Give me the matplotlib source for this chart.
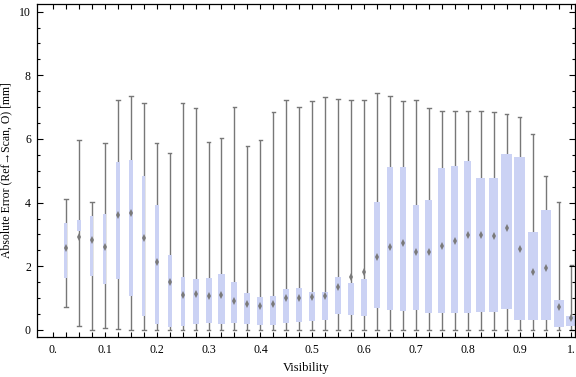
import numpy as np
import matplotlib
matplotlib.use("Agg")
import matplotlib.pyplot as plt
from matplotlib.patches import Rectangle

# visibility bins (box centres)
visibility = [0.025 * k for k in range(1, 41)]

# box-whisker statistics (mm)
whisker_lo = [0.73, 0.14, 0.00, 0.05, 0.02, 0.00, 0.00, 0.00, 0.00, 0.00,
              0.00, 0.00, 0.00, 0.00, 0.00, 0.00, 0.00, 0.00, 0.00, 0.00,
              0.00, 0.00, 0.00, 0.00, 0.00, 0.00, 0.00, 0.00, 0.00, 0.00,
              0.00, 0.00, 0.00, 0.00, 0.00, 0.00, 0.00, 0.00, 0.00, 0.00]
q1 = [1.64, 3.12, 1.71, 1.45, 1.61, 1.08, 0.44, 0.20, 0.10, 0.14,
      0.20, 0.23, 0.20, 0.23, 0.20, 0.17, 0.17, 0.23, 0.26, 0.29,
      0.32, 0.51, 0.48, 0.45, 0.70, 0.64, 0.61, 0.64, 0.54, 0.54,
      0.54, 0.54, 0.58, 0.58, 0.67, 0.32, 0.32, 0.32, 0.10, 0.14]
median = [2.56, 2.92, 2.83, 2.62, 3.61, 3.66, 2.88, 2.13, 1.50, 1.10,
          1.12, 1.08, 1.10, 0.92, 0.81, 0.76, 0.81, 1.00, 1.00, 1.04,
          1.07, 1.34, 1.65, 1.82, 2.29, 2.62, 2.73, 2.46, 2.46, 2.64,
          2.79, 2.99, 2.97, 2.95, 3.20, 2.55, 1.83, 1.96, 0.71, 0.38]
q3 = [3.35, 3.47, 3.58, 3.64, 5.27, 5.34, 4.83, 3.92, 2.35, 1.66,
      1.60, 1.63, 1.76, 1.51, 1.16, 1.03, 1.07, 1.29, 1.32, 1.19,
      1.19, 1.67, 1.48, 1.60, 4.02, 5.12, 5.12, 3.92, 4.08, 5.09,
      5.15, 5.31, 4.77, 4.77, 5.53, 5.43, 3.08, 3.77, 0.95, 0.44]
whisker_hi = [4.13, 5.96, 4.01, 5.86, 7.24, 7.35, 7.12, 5.86, 5.55, 7.12,
              6.96, 5.92, 6.02, 7.02, 5.77, 5.96, 6.84, 7.21, 7.02, 7.18,
              7.31, 7.27, 7.24, 7.24, 7.43, 7.34, 7.18, 7.24, 6.96, 6.87,
              6.87, 6.87, 6.87, 6.84, 6.80, 6.68, 6.17, 4.83, 4.03, 2.05]
# box widths (data units) vary per bin in the original chart
box_width = [0.0058, 0.0077, 0.0058, 0.0058, 0.0077, 0.0077, 0.0058, 0.0077, 0.0077, 0.0077,
             0.0116, 0.0116, 0.0116, 0.0116, 0.0116, 0.0116, 0.0116, 0.0116, 0.0116, 0.0116,
             0.0116, 0.0116, 0.0116, 0.0116, 0.0116, 0.0116, 0.0116, 0.0116, 0.0135, 0.0135,
             0.0141, 0.0141, 0.0174, 0.0174, 0.0212, 0.0212, 0.0193, 0.0193, 0.0193, 0.0193]

x_ticks = [0.025 * k for k in range(0, 41)]
x_labels = ["0.", "0.1", "0.2", "0.3", "0.4", "0.5", "0.6", "0.7", "0.8", "0.9", "1."]

plt.rcParams['font.family'] = ['Liberation Serif', 'DejaVu Serif']

fig = plt.figure(figsize=(5.76, 3.77), dpi=100)
ax = fig.add_axes([36.5 / 576, 40 / 377, (575 - 36.5) / 576, (373 - 40) / 377])

box_col = '#cbd2f4'
line_col = '#777777'
cap = 0.0035

for x, lo, a, m, b, hi, w in zip(visibility, whisker_lo, q1, median, q3, whisker_hi, box_width):
    ax.plot([x, x], [lo, hi], color=line_col, lw=1.0, zorder=1, solid_capstyle='butt')
    ax.plot([x - cap, x + cap], [hi, hi], color=line_col, lw=1.0, zorder=1)
    ax.plot([x - cap, x + cap], [lo, lo], color=line_col, lw=1.0, zorder=1)
    ax.add_patch(Rectangle((x - w / 2, a), w, b - a, facecolor=box_col,
                           edgecolor='none', zorder=2))
    ax.plot([x], [m], marker='d', markersize=3.6, color='#7a7a7a',
            markeredgewidth=0, zorder=3)

ax.set_xlim(-0.0318, 1.0068)
ax.set_ylim(-0.22, 10.24)

ax.set_xticks(x_ticks)
ax.set_xticklabels([x_labels[i // 4] if i % 4 == 0 else "" for i in range(len(x_ticks))])
ax.set_yticks([0, 2, 4, 6, 8, 10])
ax.set_yticks(np.arange(0, 10.01, 0.5), minor=True)
ax.tick_params(axis='both', which='both', direction='in', top=True, right=True,
               labelsize=8.5, colors='black', width=0.8)
ax.tick_params(axis='x', which='major', length=3.5, pad=5)
ax.tick_params(axis='y', which='major', length=4, pad=4)
ax.tick_params(axis='y', which='minor', length=2.2)
for s in ax.spines.values():
    s.set_linewidth(0.9)

ax.set_xlabel('Visibility', fontsize=9, labelpad=4)
ax.set_ylabel('Absolute Error (Ref\u2192Scan, O) [mm]', fontsize=8.5, labelpad=5)

fig.savefig('out.png', dpi=100)
